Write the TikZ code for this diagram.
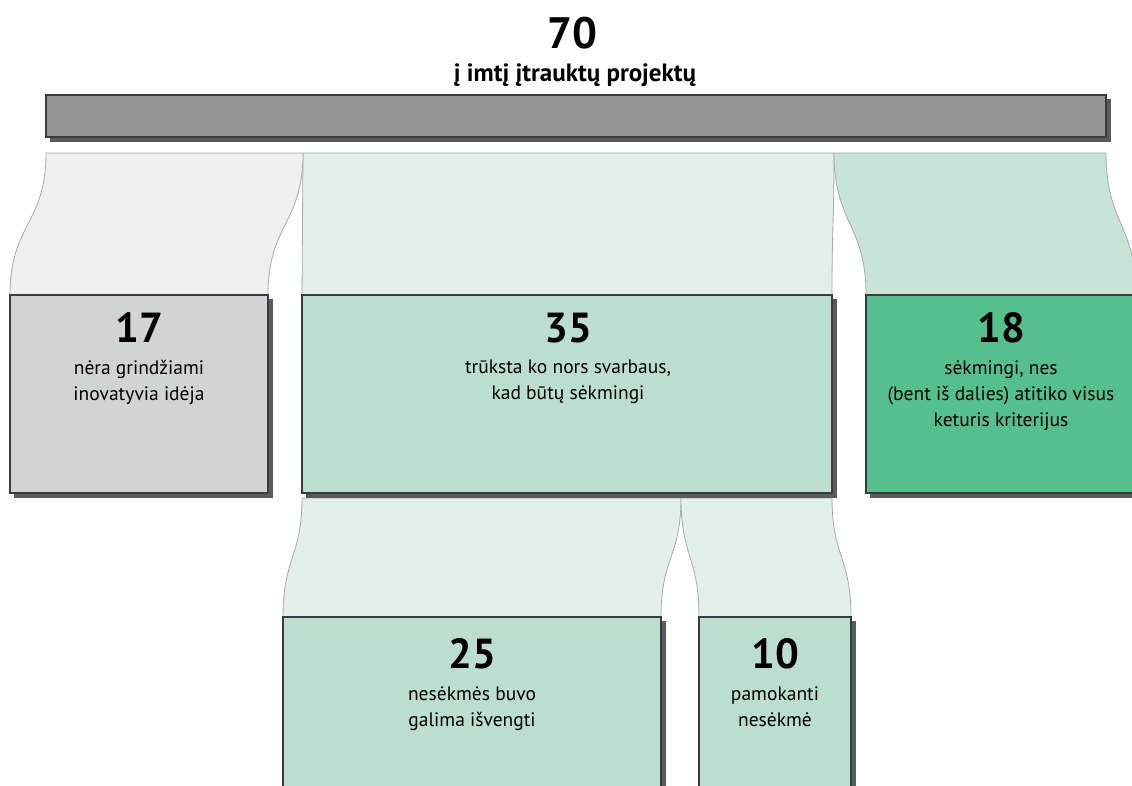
\documentclass[tikz,border=0pt]{standalone}
\usepackage{fontspec}
\setmainfont{PT Sans}
\usetikzlibrary{shadows}
\definecolor{barfill}{HTML}{939598}
\definecolor{shadowc}{HTML}{5A5B5E}
\definecolor{edgec}{HTML}{3C3C3E}
\definecolor{flowedge}{HTML}{A7A9AC}
\definecolor{flowgray}{HTML}{EFEFEF}
\definecolor{boxgray}{HTML}{D1D3D4}
\definecolor{flowmid}{HTML}{E2F0E9}
\definecolor{boxmid}{HTML}{BCDECF}
\definecolor{flowright}{HTML}{C8E4D7}
\definecolor{boxright}{HTML}{55BF8E}
\tikzset{
  blockbox/.style={draw=edgec, line width=1.2pt, inner sep=0pt, outer sep=0pt, anchor=north west,
    copy shadow={shadow xshift=4pt, shadow yshift=-4pt, fill=shadowc, draw=shadowc, line width=1pt}},
  flowband/.style={draw=flowedge, line width=0.8pt},
  bignum/.style={font=\fontsize{42}{42}\selectfont\bfseries, inner sep=0pt},
  boxlabel/.style={font=\fontsize{19.5}{26}\selectfont, align=center, inner sep=0pt, anchor=north}
}
\begin{document}
\begin{tikzpicture}[x=1pt,y=-1pt]
\useasboundingbox (0,0) rectangle (1132,785);
\clip (0,0) rectangle (1132,785);
\fill[white] (0,0) rectangle (1132,785);

% title
\node[font=\fontsize{44}{44}\selectfont\bfseries, inner sep=0pt] (total) at (572,33) {70};
\node[font=\fontsize{25}{28}\selectfont\bfseries, inner sep=0pt] (totallbl) at (575,75) {į imtį įtrauktų projektų};

% split coordinates under the bar
\coordinate (s0) at (46,153);
\coordinate (s1) at (303,153);
\coordinate (s2) at (834,153);
\coordinate (s3) at (1106,153);

% flows from bar
\path[flowband, fill=flowmid] (s1) -- (s2) .. controls (834,224) and (832,224) .. (832,295)
  -- (302,295) .. controls (302,224) and (303,224) .. (s1) -- cycle;
\path[flowband, fill=flowgray] (s0) -- (s1) .. controls (303,224) and (268,224) .. (268,295)
  -- (10,295) .. controls (10,224) and (46,224) .. (s0) -- cycle;
\path[flowband, fill=flowright] (s2) -- (s3) .. controls (1106,224) and (1136,224) .. (1136,295)
  -- (866,295) .. controls (866,224) and (834,224) .. (s2) -- cycle;

% lower split
\coordinate (t0) at (302,498);
\coordinate (t1) at (681,498);
\coordinate (t2) at (832,498);
\path[flowband, fill=flowmid] (t0) -- (t1) .. controls (681,557) and (661,557) .. (661,617)
  -- (283,617) .. controls (283,557) and (302,557) .. (t0) -- cycle;
\path[flowband, fill=flowmid] (t1) -- (t2) .. controls (832,557) and (851,557) .. (851,617)
  -- (699,617) .. controls (699,557) and (681,557) .. (t1) -- cycle;

% bar
\node[blockbox, fill=barfill, minimum width=1060pt, minimum height=42pt] (bar) at (46,95) {};

% boxes
\node[blockbox, fill=boxgray, minimum width=258pt, minimum height=198pt] (b17) at (10,295) {};
\node[blockbox, fill=boxmid, minimum width=530pt, minimum height=198pt] (b35) at (302,295) {};
\node[blockbox, fill=boxright, minimum width=270pt, minimum height=198pt] (b18) at (866,295) {};
\node[blockbox, fill=boxmid, minimum width=378pt, minimum height=210pt] (b25) at (283,617) {};
\node[blockbox, fill=boxmid, minimum width=152pt, minimum height=210pt] (b10) at (699,617) {};

% texts
\node[bignum] (n17) at (139,328) {17};
\node[boxlabel] (l17) at (139,360) {nėra grindžiami\\inovatyvia idėja};
\node[bignum] (n35) at (568,328) {35};
\node[boxlabel] (l35) at (568,360) {trūksta ko nors svarbaus,\\kad būtų sėkmingi};
\node[bignum] (n18) at (1001,328) {18};
\node[boxlabel] (l18) at (1001,360) {sėkmingi, nes\\(bent iš dalies) atitiko visus\\keturis kriterijus};
\node[bignum] (n25) at (472,654) {25};
\node[boxlabel] (l25) at (472,686) {nesėkmės buvo\\galima išvengti};
\node[bignum] (n10) at (775,654) {10};
\node[boxlabel] (l10) at (775,686) {pamokanti\\nesėkmė};
\end{tikzpicture}
\end{document}
